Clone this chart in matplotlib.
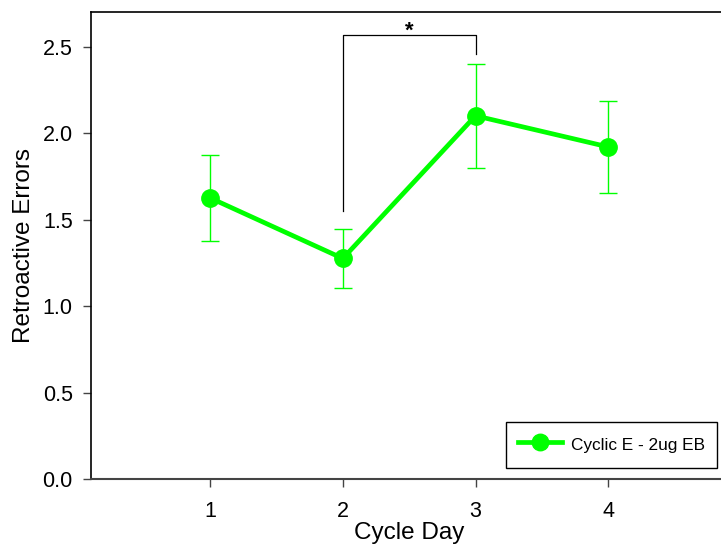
import matplotlib
matplotlib.use("Agg")
import matplotlib.pyplot as plt

plt.rcParams['font.family'] = ['Liberation Sans', 'DejaVu Sans']

days = [1, 2, 3, 4]
day_labels = ['1', '2', '3', '4']
means = [1.625, 1.275, 2.10, 1.92]
errors = [0.25, 0.17, 0.30, 0.265]
series_label = 'Cyclic E - 2ug EB'
y_ticks = [0.0, 0.5, 1.0, 1.5, 2.0, 2.5]

# significance bracket between day 2 and day 3
sig_pair = (2, 3)
sig_left_bottom = 1.55
sig_right_bottom = 2.455
sig_top = 2.565
sig_text = '*'

green = '#00FF00'

fig = plt.figure(figsize=(7.21, 5.48), dpi=100)
ax = fig.add_axes([90.7 / 721, 1 - 479 / 548, 1 - 90.7 / 721, (479 - 12) / 548])

ax.errorbar(days, means, yerr=errors, fmt='none', ecolor=green, elinewidth=1.0,
            capsize=6.5, capthick=1.0, zorder=2)
ax.plot(days, means, color=green, linewidth=3.4, marker='o', markersize=12.5,
        markerfacecolor=green, markeredgecolor=green, label=series_label, zorder=3)

# bracket
ax.plot([sig_pair[0], sig_pair[0], sig_pair[1], sig_pair[1]],
        [sig_left_bottom, sig_top, sig_top, sig_right_bottom],
        color='black', linewidth=0.9, zorder=1)
ax.text((sig_pair[0] + sig_pair[1]) / 2, sig_top - 0.035, sig_text, ha='center', va='bottom',
        fontsize=16, fontweight='bold')

ax.set_xlim(0.1, 4.85)
ax.set_ylim(0, 2.7)
ax.set_xticks(days)
ax.set_xticklabels(day_labels)
ax.set_yticks(y_ticks)
ax.set_yticklabels([f'{v:.1f}' for v in y_ticks])

ax.tick_params(axis='both', direction='out', length=6, width=1, color='#444444',
               labelsize=15.5)
ax.tick_params(axis='y', pad=7)
ax.tick_params(axis='x', pad=10)

for s in ['left', 'top']:
    ax.spines[s].set_color('black')
    ax.spines[s].set_linewidth(1.2)
ax.spines['bottom'].set_color('#444444')
ax.spines['bottom'].set_linewidth(1.5)
ax.spines['right'].set_visible(False)

ax.set_xlabel('Cycle Day', fontsize=17.5, labelpad=0)
ax.set_ylabel('Retroactive Errors', fontsize=17.5, labelpad=5)
ax.xaxis.label.set_x(0.506)

leg = ax.legend(loc='lower right', bbox_to_anchor=(0.9937, 0.0236), fontsize=12.4,
                frameon=True, fancybox=False, edgecolor='black', framealpha=1,
                handlelength=2.6, handleheight=1.6, handletextpad=0.5,
                borderpad=0.7, borderaxespad=0, markerscale=0.95)
leg.get_frame().set_linewidth(1.0)

fig.savefig('out.png', dpi=100)
